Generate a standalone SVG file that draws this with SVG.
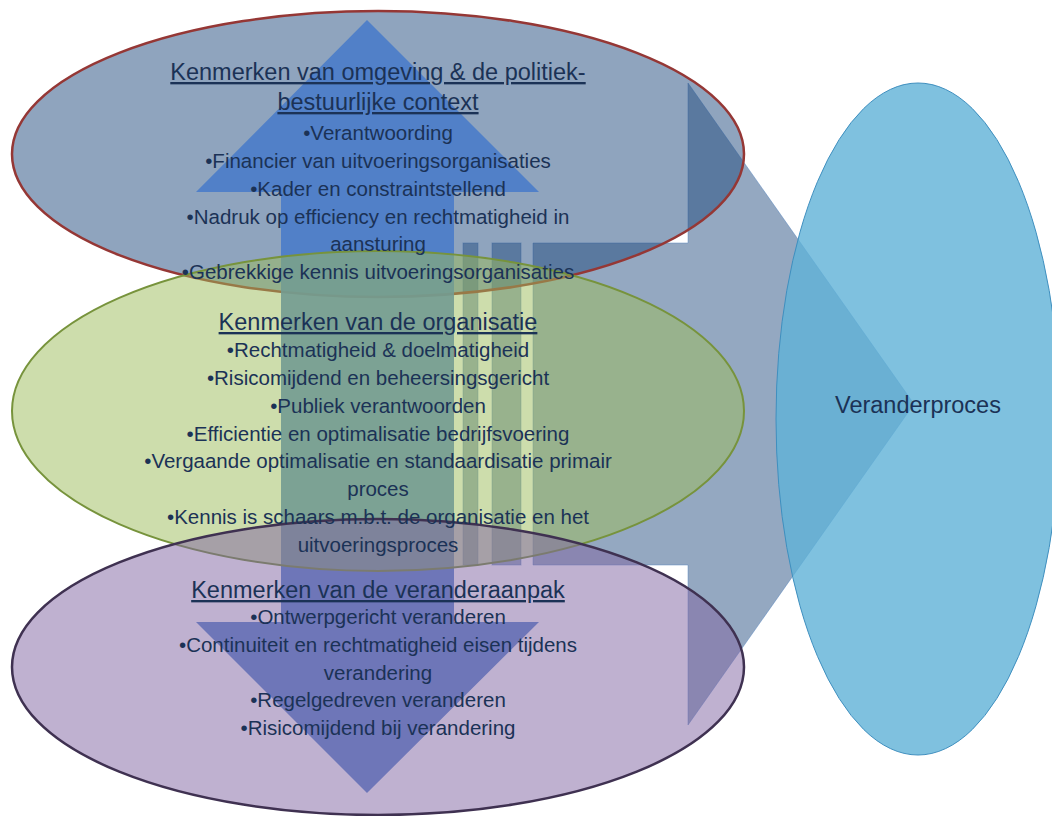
<svg xmlns="http://www.w3.org/2000/svg" width="1052" height="816" viewBox="0 0 1052 816">
<style>
  .t { font-family: "Liberation Sans", Arial, sans-serif; fill: #1B3256; text-anchor: middle; }
  .b { font-size: 20.5px; }
  .h { font-size: 23.5px; text-decoration: underline; }
  .stripe { fill: #1F497D; fill-opacity: 0.48; stroke: #4F81BD; stroke-opacity: 0.45; stroke-width: 1; }
</style>
<rect x="0" y="0" width="1052" height="816" fill="#FFFFFF"/>

<g id="connectors">
  <g id="striped-arrow">
    <rect class="stripe" x="463" y="243" width="15" height="322"/>
    <rect class="stripe" x="492" y="243" width="29" height="322"/>
    <path class="stripe" d="M533,243 L688,243 L688,83 L914,404 L688,725 L688,565 L533,565 Z"/>
  </g>
</g>

<g id="node-omgeving">
  <ellipse cx="378" cy="154" rx="366" ry="143" fill="#1F497D" fill-opacity="0.5" stroke="#953735" stroke-width="2.5"/>
</g>

<g id="double-arrow">
  <path d="M367,20 L539,192 L454,192 L454,622 L539,622 L367,793 L196,622 L281,622 L281,192 L196,192 Z" fill="#4A7CC9" fill-opacity="0.9"/>
</g>

<g id="node-organisatie">
  <ellipse cx="378" cy="411" rx="366" ry="160" fill="#9BBB59" fill-opacity="0.5" stroke="#77933C" stroke-width="2"/>
</g>

<g id="node-veranderaanpak">
  <ellipse cx="378" cy="667" rx="366" ry="148" fill="#8064A2" fill-opacity="0.5" stroke="#3F3151" stroke-width="2.5"/>
</g>

<g id="node-veranderproces">
  <ellipse cx="918" cy="419" rx="142" ry="336" fill="#5FB2D7" fill-opacity="0.8" stroke="#3F8FBF" stroke-width="1"/>
  <text class="t" x="918" y="413" font-size="23.5">Veranderproces</text>
</g>

<g id="node-omgeving-text" class="t">
  <text class="h" x="378" y="80">Kenmerken van omgeving &amp; de politiek-</text>
  <text class="h" x="378" y="110">bestuurlijke context</text>
  <text class="b" x="378" y="140">•Verantwoording</text>
  <text class="b" x="378" y="168">•Financier van uitvoeringsorganisaties</text>
  <text class="b" x="378" y="196">•Kader en constraintstellend</text>
  <text class="b" x="378" y="224">•Nadruk op efficiency en rechtmatigheid in</text>
  <text class="b" x="378" y="251">aansturing</text>
  <text class="b" x="378" y="279">•Gebrekkige kennis uitvoeringsorganisaties</text>
</g>

<g id="node-organisatie-text" class="t">
  <text class="h" x="378" y="330">Kenmerken van de organisatie</text>
  <text class="b" x="378" y="357">•Rechtmatigheid &amp; doelmatigheid</text>
  <text class="b" x="378" y="385">•Risicomijdend en beheersingsgericht</text>
  <text class="b" x="378" y="413">•Publiek verantwoorden</text>
  <text class="b" x="378" y="441">•Efficientie en optimalisatie bedrijfsvoering</text>
  <text class="b" x="378" y="468">•Vergaande optimalisatie en standaardisatie primair</text>
  <text class="b" x="378" y="496">proces</text>
  <text class="b" x="378" y="524">•Kennis is schaars m.b.t. de organisatie en het</text>
  <text class="b" x="378" y="552">uitvoeringsproces</text>
</g>

<g id="node-veranderaanpak-text" class="t">
  <text class="h" x="378" y="598">Kenmerken van de veranderaanpak</text>
  <text class="b" x="378" y="624">•Ontwerpgericht veranderen</text>
  <text class="b" x="378" y="652">•Continuiteit en rechtmatigheid eisen tijdens</text>
  <text class="b" x="378" y="680">verandering</text>
  <text class="b" x="378" y="707">•Regelgedreven veranderen</text>
  <text class="b" x="378" y="735">•Risicomijdend bij verandering</text>
</g>
</svg>
